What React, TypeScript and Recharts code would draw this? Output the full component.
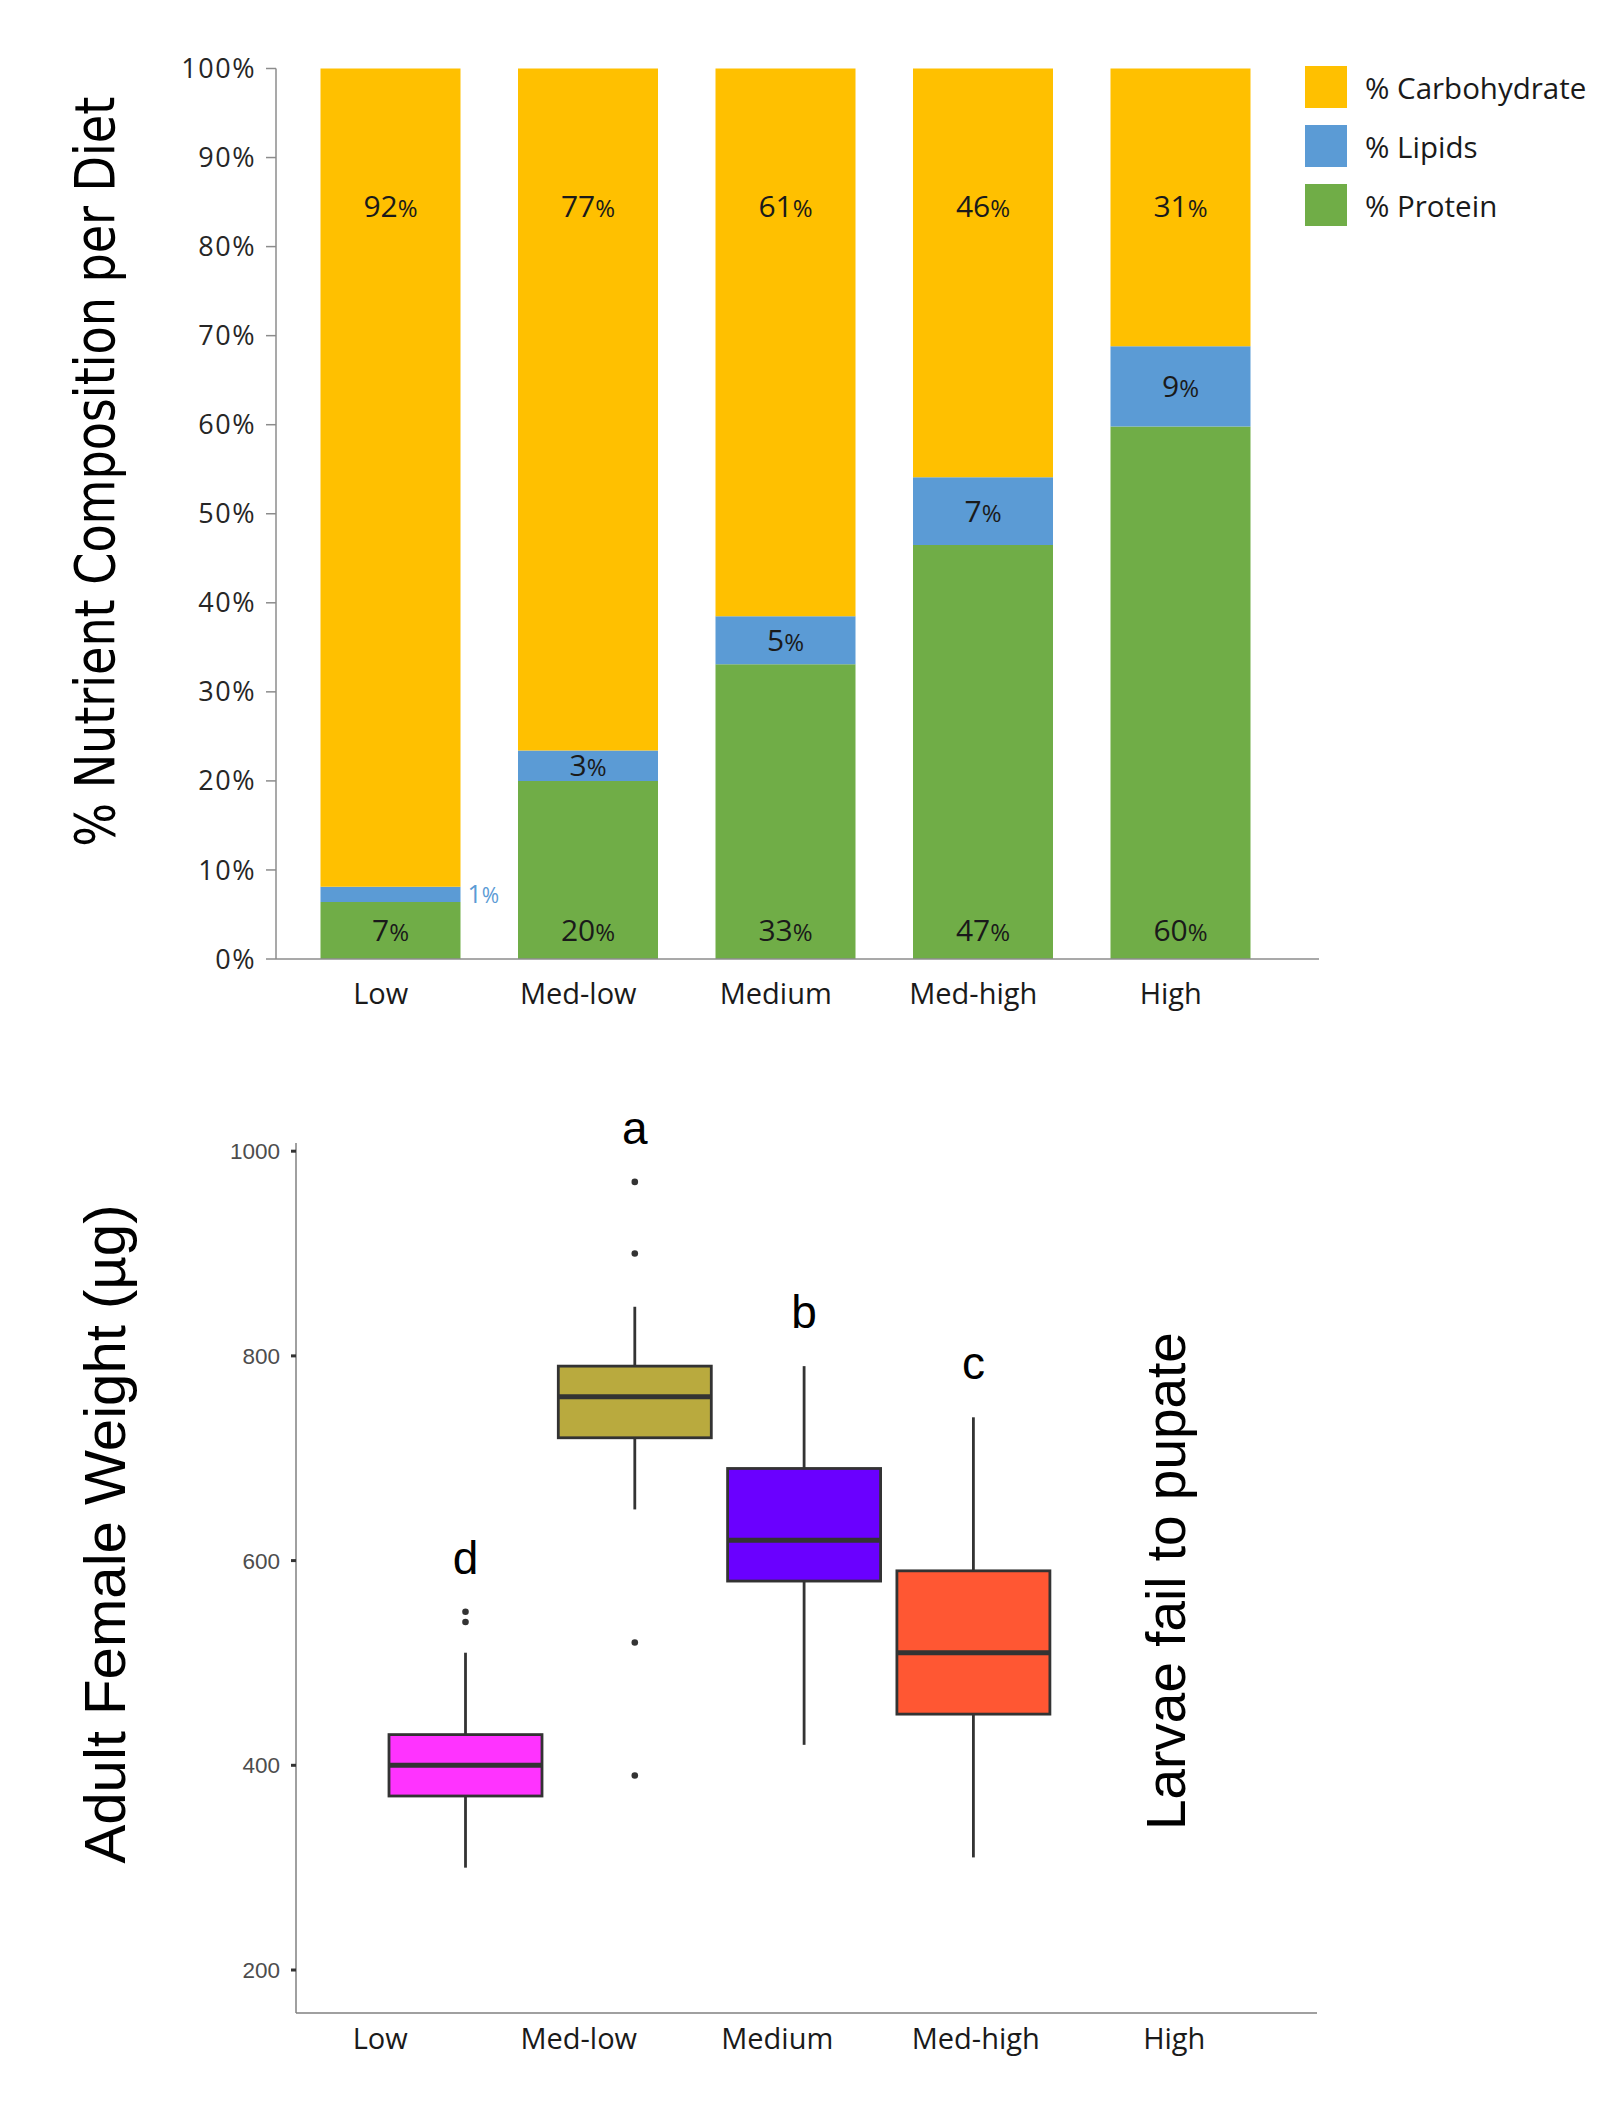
import React from 'react';
import { BarChart, ComposedChart, Bar, XAxis, YAxis, LabelList, Legend, Label, ReferenceDot } from 'recharts';

const diets = ['Low', 'Med-low', 'Medium', 'Med-high', 'High'];

// top panel: nutrient composition (% of diet)
const protein = [6.4, 20.0, 33.1, 46.5, 59.8];
const lipids = [1.7, 3.4, 5.4, 7.6, 9.0];
const carbs = [91.9, 76.6, 61.5, 45.9, 31.2];
const proteinLabels = [7, 20, 33, 47, 60];
const lipidLabels = [1, 3, 5, 7, 9];
const carbLabels = [92, 77, 61, 46, 31];
const pctTicks = [0, 10, 20, 30, 40, 50, 60, 70, 80, 90, 100];
const legendOrder = ['% Carbohydrate', '% Lipids', '% Protein'];

// bottom panel: adult female weight (µg), boxplot stats
const whiskerLow = [300, 650, 420, 310, null];
const q1 = [370, 720, 580, 450, null];
const median = [400, 760, 620, 510, null];
const q3 = [430, 790, 690, 590, null];
const whiskerHigh = [510, 848, 790, 740, null];
const outliers: number[][] = [[540, 550], [970, 900, 520, 390], [], [], []];
const letters = ['d', 'a', 'b', 'c', ''];
const weightTicks = [200, 400, 600, 800, 1000];

const boxFill = ['#ff33ff', '#b9aa3e', '#6a00ff', '#ff5733', '#ffffff'];

const C_CARB = '#ffc000';
const C_LIPID = '#5b9bd5';
const C_PROT = '#70ad47';
const AXIS_GREY = '#8c8c8c';
const SANS = "'Open Sans', 'Noto Sans', sans-serif";
const ARIAL = "'Liberation Sans', Arial, sans-serif";

const compData = diets.map((d, i) => ({ diet: d, protein: protein[i], lipids: lipids[i], carbs: carbs[i] }));
const boxData = diets.map((d, i) => ({ diet: d, box: q1[i] == null ? null : [q1[i], q3[i]] }));

const pct = (x: number, y: number, n: number, opts: any = {}) => (
  <text x={x} y={y} textAnchor={opts.anchor || 'middle'} fill={opts.color || '#1a1a1a'} fontFamily={SANS}>
    <tspan fontSize={opts.big || 30}>{n}</tspan>
    <tspan fontSize={opts.small || 24}>%</tspan>
  </text>
);

const carbLabel = (p: any) => {
  const { x, y, width } = p.viewBox;
  return pct(x + width / 2, y + 148, carbLabels[p.index]);
};

const protLabel = (p: any) => {
  const { x, y, width, height } = p.viewBox;
  return pct(x + width / 2, y + height - 18, proteinLabels[p.index]);
};

const lipidLabel = (p: any) => {
  const { x, y, width, height } = p.viewBox;
  const mid = y + height / 2;
  if (p.index === 0) {
    return pct(x + width + 7, mid + 8.5, lipidLabels[0], { anchor: 'start', color: C_LIPID, big: 25, small: 21 });
  }
  return pct(x + width / 2, mid + 10.7, lipidLabels[p.index]);
};

const renderLegend = (props: any) => {
  const items = [...(props.payload || [])].sort(
    (a: any, b: any) => legendOrder.indexOf(a.value) - legendOrder.indexOf(b.value)
  );
  return (
    <div>
      {items.map((it: any) => (
        <div key={it.value} style={{ display: 'flex', alignItems: 'center', height: 42, marginBottom: 17 }}>
          <div style={{ width: 42, height: 42, background: it.color }} />
          <span style={{ marginLeft: 18, fontSize: 29.5, fontFamily: SANS, color: '#1a1a1a', whiteSpace: 'nowrap' }}>
            {it.value}
          </span>
        </div>
      ))}
    </div>
  );
};

const topTitle = (p: any) => {
  const vb = p.viewBox;
  const X = vb.x + 28;
  const Y = vb.y + vb.height / 2 - 42;
  return (
    <text x={X} y={Y} transform={`rotate(-90, ${X}, ${Y})`} textAnchor="middle" fontSize={56}
      fontFamily="'Liberation Sans Narrow', 'DejaVu Sans Condensed', sans-serif" textLength={750}
      lengthAdjust="spacingAndGlyphs" fill="#000">
      % Nutrient Composition per Diet
    </text>
  );
};

const bottomTitle = (p: any) => {
  const vb = p.viewBox;
  const X = vb.x + 29;
  const Y = vb.y + vb.height / 2 - 44;
  return (
    <text x={X} y={Y} transform={`rotate(-90, ${X}, ${Y})`} textAnchor="middle" fontSize={57}
      fontFamily={ARIAL} textLength={659} lengthAdjust="spacingAndGlyphs" fill="#000">
      Adult Female Weight (µg)
    </text>
  );
};

const larvaeLabel = (p: any) => {
  const X = p.viewBox.x + 42;
  const Y = p.viewBox.y;
  return (
    <text x={X} y={Y} transform={`rotate(-90, ${X}, ${Y})`} textAnchor="middle" fontSize={56}
      fontFamily={ARIAL} textLength={498} lengthAdjust="spacingAndGlyphs" fill="#000">
      Larvae fail to pupate
    </text>
  );
};

const BoxShape = (props: any) => {
  const { x, y, width, height } = props;
  const i = props.payload && props.payload.diet ? diets.indexOf(props.payload.diet) : props.index;
  if (q1[i] == null || !isFinite(y) || !isFinite(height)) return <g />;
  const lo = q1[i] as number;
  const hi = q3[i] as number;
  const top = Math.min(y, y + height);
  const h = Math.abs(height);
  const ppu = h / (hi - lo);
  const yOf = (v: number) => top + (hi - v) * ppu;
  const cx = x + width / 2;
  const topValue = Math.max(whiskerHigh[i] as number, ...outliers[i]);
  return (
    <g>
      <line x1={cx} x2={cx} y1={yOf(whiskerHigh[i] as number)} y2={top} stroke="#333" strokeWidth={2.8} />
      <line x1={cx} x2={cx} y1={top + h} y2={yOf(whiskerLow[i] as number)} stroke="#333" strokeWidth={2.8} />
      <rect x={x} y={top} width={width} height={h} fill={boxFill[i]} stroke="#333" strokeWidth={2.8} />
      <line x1={x} x2={x + width} y1={yOf(median[i] as number)} y2={yOf(median[i] as number)} stroke="#333" strokeWidth={5} />
      {outliers[i].map((v, k) => (
        <circle key={k} cx={cx} cy={yOf(v)} r={3.3} fill="#333" />
      ))}
      <text x={cx} y={yOf(topValue) - 38} textAnchor="middle" fontSize={46} fontFamily={ARIAL} fill="#000">
        {letters[i]}
      </text>
    </g>
  );
};

export default function App() {
  return (
    <div style={{ position: 'absolute', left: 0, top: 0, width: 1618, height: 2108, background: '#fff' }}>
      <div style={{ position: 'absolute', left: 0, top: 0 }}>
        <BarChart width={1618} height={1040} data={compData} margin={{ top: 68.5, right: 299, bottom: 21, left: 86 }}>
          <XAxis
            dataKey="diet"
            interval={0}
            height={60}
            padding={{ left: 15.5, right: 40 }}
            tickLine={false}
            tickSize={0}
            tickMargin={24}
            axisLine={{ stroke: AXIS_GREY, strokeWidth: 1.5 }}
            tick={{ fill: '#1a1a1a', fontSize: 29, fontFamily: SANS, dx: -9.5 }}
          />
          <YAxis
            width={190}
            domain={[0, 100]}
            ticks={pctTicks}
            interval={0}
            tickFormatter={(v: number) => `${v}%`}
            tickSize={10}
            tickMargin={10}
            tickLine={{ stroke: AXIS_GREY, strokeWidth: 1.5 }}
            axisLine={{ stroke: AXIS_GREY, strokeWidth: 1.5 }}
            tick={{ fill: '#262626', fontSize: 27, fontFamily: SANS, letterSpacing: 1.5 }}
          >
            <Label content={topTitle} />
          </YAxis>
          <Legend
            layout="vertical"
            align="center"
            verticalAlign="middle"
            content={renderLegend}
            wrapperStyle={{ left: 1305, top: 66, right: 'auto', bottom: 'auto', width: 'auto', height: 'auto', textAlign: 'left' }}
          />
          <Bar dataKey="protein" name="% Protein" stackId="a" fill={C_PROT} barSize={140} isAnimationActive={false}>
            <LabelList dataKey="protein" content={protLabel} />
          </Bar>
          <Bar dataKey="lipids" name="% Lipids" stackId="a" fill={C_LIPID} barSize={140} isAnimationActive={false}>
            <LabelList dataKey="lipids" content={lipidLabel} />
          </Bar>
          <Bar dataKey="carbs" name="% Carbohydrate" stackId="a" fill={C_CARB} barSize={140} isAnimationActive={false}>
            <LabelList dataKey="carbs" content={carbLabel} />
          </Bar>
        </BarChart>
      </div>

      <div style={{ position: 'absolute', left: 0, top: 1080 }}>
        <ComposedChart width={1618} height={1028} data={boxData} margin={{ top: 63, right: 301, bottom: 15, left: 96 }}>
          <XAxis xAxisId="box" dataKey="diet" orientation="top" hide height={0} padding={{ left: 85, right: 89.5 }} />
          <XAxis
            xAxisId="lab"
            dataKey="diet"
            interval={0}
            height={80}
            padding={{ left: 0, right: 28.5 }}
            tickLine={false}
            tickSize={0}
            tickMargin={15}
            axisLine={{ stroke: '#808080', strokeWidth: 1.5 }}
            tick={{ fill: '#1a1a1a', fontSize: 29, fontFamily: SANS, dx: -15 }}
          />
          <YAxis
            width={200}
            domain={[158, 1008]}
            ticks={weightTicks}
            interval={0}
            tickSize={5}
            tickMargin={11}
            tickLine={{ stroke: '#333', strokeWidth: 3 }}
            axisLine={{ stroke: '#808080', strokeWidth: 1.5 }}
            tick={{ fill: '#4d4d4d', fontSize: 22.5, fontFamily: ARIAL }}
          >
            <Label content={bottomTitle} />
          </YAxis>
          <Bar xAxisId="box" dataKey="box" barSize={153} shape={BoxShape} isAnimationActive={false} />
          <ReferenceDot xAxisId="box" x="High" y={580} r={0} fill="none" stroke="none" label={larvaeLabel} />
        </ComposedChart>
      </div>
    </div>
  );
}
